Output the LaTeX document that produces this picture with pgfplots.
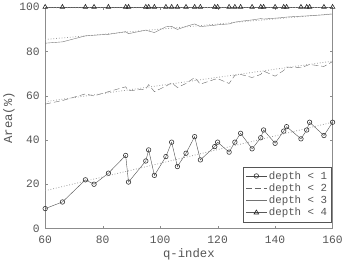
\documentclass[border=0pt]{standalone}
\usepackage{pgfplots}
\pgfplotsset{compat=1.18}
\usepackage{fontspec}
\setmainfont{Liberation Mono}
\definecolor{axgray}{HTML}{8C8C8C}
\definecolor{txtgray}{HTML}{555555}
\definecolor{trend}{HTML}{9A9A9A}
\begin{document}
\begin{tikzpicture}
\begin{axis}[
  scale only axis,
  width=292bp, height=225bp,
  xmin=60, xmax=160, ymin=0, ymax=100,
  xtick={60,80,...,160}, ytick={0,20,...,100},
  tick align=inside,
  major tick length=3bp,
  axis line style={axgray},
  tick style={axgray},
  ticklabel style={font=\fontsize{11.5}{12}\selectfont, text=txtgray},
  yticklabel style={xshift=-2bp},
  xticklabel style={yshift=-4bp},
  /pgf/number format/assume math mode=true,
  xlabel={q-index}, ylabel={Area(\%)},
  label style={font=\fontsize{12.5}{13}\selectfont, text=txtgray},
  xlabel style={yshift=2bp},
  ylabel style={yshift=-2bp},
  legend style={at={(rel axis cs:0.997,0.03)}, anchor=south east,
    font=\fontsize{11}{13}\selectfont, text=txtgray, draw=txtgray,
    row sep=-1bp, inner sep=2.5bp},
  legend image code/.code={\draw[mark repeat=2,mark phase=2,#1] plot coordinates {(0cm,0cm) (0.37cm,0cm) (0.74cm,0cm)};},
  legend cell align=left,
  clip=false,
]
% depth < 1
\addplot[color=black!70, mark=o, mark size=2.3bp, mark options={solid, black!80, fill=white, line width=0.6pt}] coordinates {
(60,9) (66,12) (74,22) (77,20) (82,25) (88,33) (89,21) (95,30.5) (96,35.5) (98,24)
(102,32.5) (104,39) (106,28) (109,34) (112,41.5) (114,31) (119,37) (120,39) (124,34.5)
(126,39) (128,43) (132,36) (135,41) (136,44.5) (140,38.5) (143,44) (144,46) (149,40.5)
(151,44.5) (152,48) (157,42) (160,48)};
\addlegendentry{depth < 1}
% depth < 2
\addplot[color=black!60, dashed, dash pattern=on 6bp off 3bp] coordinates {
(60,56.2) (66,57.8) (74,60.8) (77,59.9) (82,61.8) (88,64) (89,62.2) (95,63) (96,65)
(98,61.8) (102,64.3) (104,65.8) (106,63.7) (109,65.5) (112,68.2) (114,65.2) (119,67.4)
(120,67.7) (124,65.5) (126,69.2) (128,69.6) (132,68.2) (135,69.6) (136,71.1) (140,68.8)
(143,71.4) (144,72.9) (149,72.6) (151,73.6) (152,74.1) (157,73.2) (160,75.4)};
\addlegendentry{depth < 2}
% depth < 3
\addplot[color=black!55, solid] coordinates {
(60,83.7) (66,84.3) (74,87) (77,87.3) (82,87.7) (88,88.9) (89,88) (95,89.6) (96,89.2)
(98,88.5) (102,91.1) (104,91.3) (106,89.9) (109,91.3) (112,92.4) (114,91.2) (119,91.8)
(120,92) (124,92.4) (126,93.2) (128,93.6) (132,94.2) (135,94.8) (136,94.6) (140,95)
(143,95.3) (144,95.5) (149,95.9) (151,96) (152,96.1) (157,96.5) (160,96.9)};
\addlegendentry{depth < 3}
% depth < 4
\addplot[color=black!65, solid, mark=triangle, mark size=2.7bp, mark options={solid, black!85, fill=white, line width=0.6pt}] coordinates {
(60,100) (66,100) (74,100) (77,100) (82,100) (88,100) (89,100) (95,100) (96,100) (98,100)
(102,100) (104,100) (106,100) (109,100) (112,100) (114,100) (119,100) (120,100) (124,100)
(126,100) (128,100) (132,100) (135,100) (136,100) (140,100) (143,100) (144,100) (149,100)
(151,100) (152,100) (157,100) (160,100)};
\addlegendentry{depth < 4}
% trend lines
\addplot[trend, dotted, thick, forget plot] coordinates {(60,17.1) (160,48)};
\addplot[trend, dotted, thick, forget plot] coordinates {(60,57.3) (160,75.6)};
\addplot[trend, dotted, thick, forget plot] coordinates {(60,85.4) (160,97)};
\addplot[trend, dotted, thick, forget plot] coordinates {(60,99.7) (160,99.8)};
\end{axis}
\end{tikzpicture}
\end{document}
